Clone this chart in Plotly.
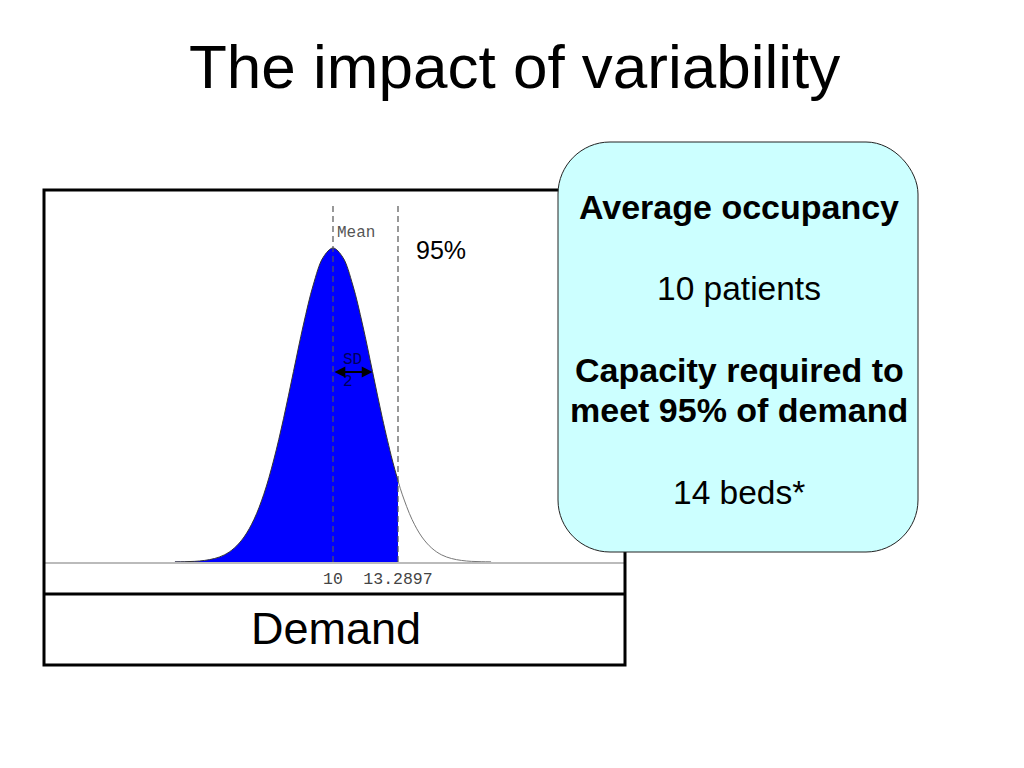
import plotly.graph_objects as go

# ---- data ----
mean_demand = 10
sd_demand = 2
cutoff_95 = 13.2897

demand_left = [2.0, 2.5, 3.0, 3.5, 4.0, 4.5, 5.0, 5.5, 6.0, 6.5, 7.0, 7.5, 8.0,
               8.5, 9.0, 9.5, 10.0, 10.5, 11.0, 11.5, 12.0, 12.5, 13.0, 13.2897]
density_left = [0.0001, 0.0002, 0.0004, 0.0010, 0.0022, 0.0045, 0.0088, 0.0159,
                0.0270, 0.0431, 0.0648, 0.0913, 0.1210, 0.1506, 0.1760, 0.1935,
                0.1995, 0.1935, 0.1760, 0.1506, 0.1210, 0.0913, 0.0648, 0.0516]
demand_right = [13.2897, 13.5, 14.0, 14.5, 15.0, 15.5, 16.0, 16.5, 17.0, 17.5, 18.0]
density_right = [0.0516, 0.0431, 0.0270, 0.0159, 0.0088, 0.0045, 0.0022, 0.0010,
                 0.0004, 0.0002, 0.0001]

tick_vals = [mean_demand, cutoff_95]
tick_text = ["10", "13.2897"]

title_text = "The impact of variability"
axis_label = "Demand"
callout_lines = [
    ("<b>Average occupancy</b>", 207, 34),
    ("10 patients", 288, 33.5),
    ("<b>Capacity required to</b>", 370, 34),
    ("<b>meet 95% of demand</b>", 410, 34),
    ("14 beds*", 492, 33.5),
]

W, H = 1024, 768
SANS = "Liberation Sans, Arial, sans-serif"
MONO = "Liberation Mono, Courier New, monospace"


def px(x):
    return x / W


def py(y):
    return 1 - y / H


# plot area in pixels
box_l, box_r, box_t, box_b = 44, 625, 190, 665
sep_y = 594
base_y = 562
x_per_px = 1 / 19.76
y_per_px = 1 / 1573.9
peak_px_x = 333
x_lo = mean_demand - (peak_px_x - box_l) * x_per_px
x_hi = mean_demand + (box_r - peak_px_x) * x_per_px
y_hi = (base_y - box_t) * y_per_px

fig = go.Figure()
fig.add_trace(go.Scatter(
    x=demand_left, y=density_left, mode="lines", fill="tozeroy",
    fillcolor="#0000FF", line=dict(color="#333333", width=1, shape="spline"),
    hoverinfo="skip", showlegend=False))
fig.add_trace(go.Scatter(
    x=demand_right, y=density_right, mode="lines",
    line=dict(color="#777777", width=1, shape="spline"),
    hoverinfo="skip", showlegend=False))

shapes = []
# outer frame and separator
shapes.append(dict(type="rect", xref="paper", yref="paper",
                   x0=px(box_l), x1=px(box_r), y0=py(box_b), y1=py(box_t),
                   line=dict(color="black", width=3), layer="above"))
shapes.append(dict(type="line", xref="paper", yref="paper",
                   x0=px(box_l), x1=px(box_r), y0=py(sep_y), y1=py(sep_y),
                   line=dict(color="black", width=3), layer="above"))
# dashed reference lines
dash_top = (base_y - 205) * y_per_px
for xv in (mean_demand, cutoff_95):
    shapes.append(dict(type="line", xref="x", yref="y", x0=xv, x1=xv,
                       y0=0, y1=dash_top,
                       line=dict(color="#555555", width=1.2, dash="6px,4px"),
                       layer="above"))

# rounded callout box
cl, cr, ct, cb = 558, 918, 142, 552
r = 52
k = 0.45
L, R, T, B = px(cl), px(cr), py(ct), py(cb)
rx, ry = r / W, r / H
path = (
    f"M {L+rx},{T} L {R-rx},{T} "
    f"C {R-rx*k},{T} {R},{T-ry*(1-k)} {R},{T-ry} "
    f"L {R},{B+ry} "
    f"C {R},{B+ry*k} {R-rx*k},{B} {R-rx},{B} "
    f"L {L+rx},{B} "
    f"C {L+rx*k},{B} {L},{B+ry*k} {L},{B+ry} "
    f"L {L},{T-ry} "
    f"C {L},{T-ry*k} {L+rx*k},{T} {L+rx},{T} Z"
)
shapes.append(dict(type="path", xref="paper", yref="paper", path=path,
                   fillcolor="#CCFFFF", line=dict(color="#222222", width=1),
                   layer="above"))

annotations = []
annotations.append(dict(text=title_text, xref="paper", yref="paper",
                        x=px(514), y=py(66), showarrow=False,
                        xanchor="center", yanchor="middle",
                        font=dict(family=SANS, size=62, color="black")))
annotations.append(dict(text=axis_label, xref="paper", yref="paper",
                        x=px(336), y=py(628), showarrow=False,
                        xanchor="center", yanchor="middle",
                        font=dict(family=SANS, size=45, color="black")))
for txt, yy, fs in callout_lines:
    annotations.append(dict(text=txt, xref="paper", yref="paper",
                            x=px(739), y=py(yy), showarrow=False,
                            xanchor="center", yanchor="middle",
                            font=dict(family=SANS, size=fs, color="black")))
# chart labels
annotations.append(dict(text="Mean", x=mean_demand, y=(base_y - 233) * y_per_px,
                        xref="x", yref="y", showarrow=False, xanchor="left",
                        yanchor="middle", xshift=2,
                        font=dict(family=MONO, size=16, color="#555555")))
annotations.append(dict(text="95%", x=cutoff_95, y=(base_y - 250) * y_per_px,
                        xref="x", yref="y", showarrow=False, xanchor="left",
                        yanchor="middle", xshift=16,
                        font=dict(family=SANS, size=25, color="black")))
annotations.append(dict(text="SD", x=mean_demand + sd_demand * 0.5,
                        y=(base_y - 360) * y_per_px,
                        xref="x", yref="y", showarrow=False,
                        xanchor="center", yanchor="middle",
                        font=dict(family=MONO, size=16, color="#00005a")))
annotations.append(dict(text=str(sd_demand), x=mean_demand + sd_demand * 0.38,
                        y=(base_y - 382) * y_per_px,
                        xref="x", yref="y", showarrow=False,
                        xanchor="center", yanchor="middle",
                        font=dict(family=MONO, size=16, color="#00005a")))
annotations.append(dict(text="", x=mean_demand + sd_demand,
                        y=(base_y - 372) * y_per_px,
                        ax=mean_demand, ay=(base_y - 372) * y_per_px,
                        xref="x", yref="y", axref="x", ayref="y",
                        showarrow=True, arrowside="end+start", arrowhead=2,
                        arrowsize=1.2, arrowwidth=1.8, arrowcolor="black",
                        standoff=0, startstandoff=0))

fig.update_layout(
    width=W, height=H,
    margin=dict(l=0, r=0, t=0, b=0),
    paper_bgcolor="white", plot_bgcolor="white",
    showlegend=False,
    shapes=shapes, annotations=annotations,
    xaxis=dict(domain=[px(box_l), px(box_r)], range=[x_lo, x_hi],
               showgrid=False, zeroline=False, showline=True,
               linecolor="#BBBBBB", linewidth=2,
               tickmode="array", tickvals=tick_vals, ticktext=tick_text,
               ticks="", tickfont=dict(family=MONO, size=16.5, color="#444444"),
               fixedrange=True),
    yaxis=dict(domain=[py(base_y), py(box_t)], range=[0, y_hi],
               visible=False, showgrid=False, zeroline=False, fixedrange=True),
)

fig.write_html("out.html", config={"displayModeBar": False},
               post_script="document.body.style.margin='0';document.body.style.overflow='hidden';")
